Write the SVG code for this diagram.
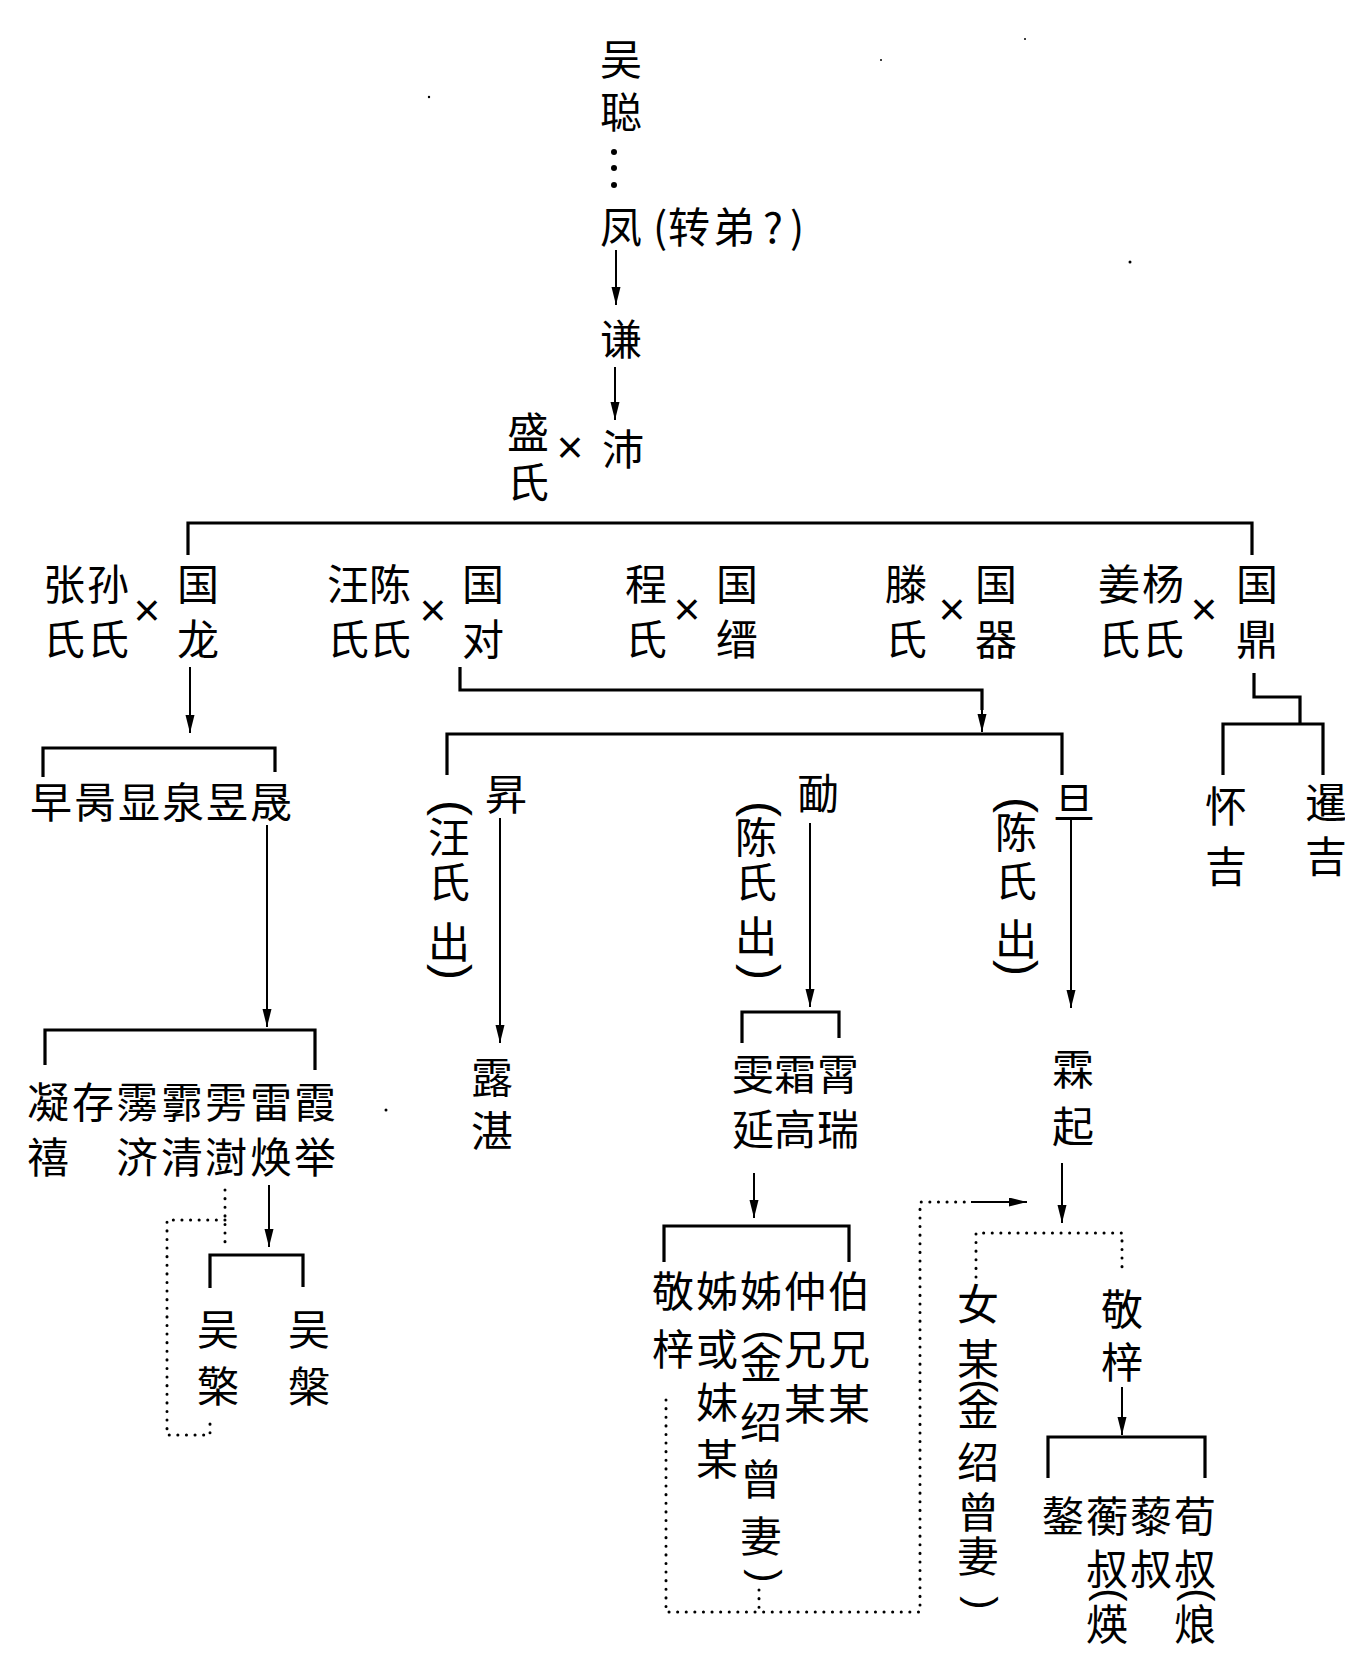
<svg xmlns="http://www.w3.org/2000/svg" width="1345" height="1657" viewBox="0 0 1345 1657">
<style>
.t{font-family:"Noto Sans CJK SC","Noto Sans CJK JP",sans-serif;font-size:42px;fill:#000}
.p{font-family:"Noto Sans CJK SC",sans-serif;font-size:42px;fill:#000}
.x{font-family:"Liberation Sans",sans-serif;font-size:46px;fill:#000;text-anchor:middle}
.pr{font-family:"Liberation Sans",sans-serif;font-size:48px;fill:#000;text-anchor:middle}
.ps{font-family:"Liberation Sans",sans-serif;font-size:40px;fill:#000;text-anchor:middle}
.b{fill:none;stroke:#000;stroke-width:3.2}
.a{fill:none;stroke:#000;stroke-width:2;marker-end:url(#ah)}
.d{fill:none;stroke:#000;stroke-width:3;stroke-dasharray:0.1 8.5;stroke-linecap:round}
</style>
<defs>
<marker id="ah" markerUnits="userSpaceOnUse" markerWidth="20" markerHeight="10" refX="18" refY="4.5" orient="auto">
<path d="M0,0 L18,4.5 L0,9 Z" fill="#000"/>
</marker>
</defs>
<rect width="1345" height="1657" fill="#fff"/>

<g id="connectors">
<circle cx="614" cy="152" r="3"/><circle cx="614" cy="168" r="3"/><circle cx="614" cy="185" r="3"/>
<path class="a" d="M616,250 V305"/>
<path class="a" d="M615,367 V420"/>
<path class="b" d="M188,555 V523 H1252 V555"/>
<path class="a" d="M190,667 V733"/>
<path class="b" d="M43,777 V748 H275 V772"/>
<path class="a" d="M267,825 V1027"/>
<path class="b" d="M45,1065 V1030 H315 V1070"/>
<path class="d" d="M225,1190 V1242 M225,1220 H167 V1435 H210 V1417"/>
<path class="a" d="M269,1185 V1247"/>
<path class="b" d="M210,1288 V1255 H303 V1287"/>
<path class="b" d="M460,667 V690 H982 V710"/>
<path class="a" d="M982,700 V732"/>
<path class="b" d="M447,775 V734 H1062 V775"/>
<path class="a" d="M500,818 V1043"/>
<path class="a" d="M810,823 V1007"/>
<path class="b" d="M742,1043 V1012 H839 V1038"/>
<path class="a" d="M754,1173 V1218"/>
<path class="b" d="M664,1262 V1226 H849 V1262"/>
<path class="d" d="M666,1400 V1612 H920 V1202 H971 M759,1590 V1612"/>
<path class="a" d="M971,1202 H1027"/>
<path class="a" d="M1071,820 V1008"/>
<path class="a" d="M1062,1163 V1223"/>
<path class="d" d="M976,1277 V1233 H1122 V1273"/>
<path class="a" d="M1122,1387 V1435"/>
<path class="b" d="M1048,1478 V1437 H1205 V1478"/>
<path class="b" d="M1254,673 V697 H1300 V724"/>
<path class="b" d="M1223,775 V724 H1323 V775"/>
</g>

<g id="n-wucong"><text class="t" x="600 600" y="75 128">吴聪</text></g>
<g id="n-feng"><text class="p" x="600 653 668 713 763 790" y="243">凤(转弟?)</text></g>
<g id="n-qian"><text class="t" x="600" y="355">谦</text></g>
<g id="n-pei"><text class="t" x="602" y="465">沛</text><text class="x" x="570" y="463">×</text><text class="t" x="507 507" y="448 498">盛氏</text></g>

<g id="n-guolong"><text class="t" x="43 87" y="600">张孙</text><text class="t" x="43 87" y="655">氏氏</text><text class="x" x="147" y="626">×</text><text class="t" x="177 177" y="600 655">国龙</text></g>
<g id="n-guodui"><text class="t" x="327 369" y="600">汪陈</text><text class="t" x="327 369" y="655">氏氏</text><text class="x" x="433" y="626">×</text><text class="t" x="462 462" y="600 655">国对</text></g>
<g id="n-guojin"><text class="t" x="625 625" y="600 655">程氏</text><text class="x" x="687" y="625">×</text><text class="t" x="716 716" y="600 655">国缙</text></g>
<g id="n-guoqi"><text class="t" x="885 885" y="600 655">滕氏</text><text class="x" x="952" y="625">×</text><text class="t" x="975 975" y="600 655">国器</text></g>
<g id="n-guoding"><text class="t" x="1098 1142" y="600">姜杨</text><text class="t" x="1098 1142" y="655">氏氏</text><text class="x" x="1204" y="625">×</text><text class="t" x="1236 1236" y="600 655">国鼎</text></g>

<g id="n-zao"><text class="t" x="30 74 118 162 206 250" y="818">早昺显泉昱晟</text></g>
<g id="n-ning"><text class="t" x="27 72 116 161 205 250 294" y="1118">凝存霶霩雱雷霞</text><text class="t" x="27" y="1173">禧</text><text class="t" x="116 161 205 250 294" y="1173">济清澍焕举</text></g>
<g id="n-wuqing"><text class="t" x="197 197" y="1345 1402">吴檠</text></g>
<g id="n-wupan"><text class="t" x="288 288" y="1345 1402">吴槃</text></g>

<g id="n-sheng"><text class="t" x="485" y="810">昇</text>
<text class="t" x="428 428 428" y="853 898 958">汪氏出</text>
<text class="pr" transform="translate(449,808) rotate(90)" y="12">(</text>
<text class="pr" transform="translate(449,972) rotate(90)" y="12">)</text></g>
<g id="n-luzhan"><text class="t" x="471 471" y="1093 1147">露湛</text></g>
<g id="n-mian"><text class="t" x="797" y="809">勔</text>
<text class="t" x="735 735 735" y="853 898 952">陈氏出</text>
<text class="pr" transform="translate(758,809) rotate(90)" y="12">(</text>
<text class="pr" transform="translate(758,972) rotate(90)" y="12">)</text></g>
<g id="n-wenyan"><text class="t" x="732 774 817" y="1090">雯霜霄</text><text class="t" x="732 774 817" y="1145">延高瑞</text></g>
<g id="n-jingzi1"><text class="t" x="652 696 740 784 828" y="1307">敬姊姊仲伯</text>
<text class="t" x="652" y="1365">梓</text>
<text class="t" x="696 696 696" y="1365 1418 1475">或妹某</text>
<text class="t" x="740 740 740 740" y="1378 1438 1495 1552">金绍曾妻</text>
<text class="ps" transform="translate(762,1337) rotate(90)" y="10">(</text>
<text class="ps" transform="translate(762,1576) rotate(90)" y="10">)</text>
<text class="t" x="784 784" y="1365 1420">兄某</text>
<text class="t" x="828 828" y="1365 1420">兄某</text></g>
<g id="n-dan"><text class="t" x="1053" y="818">旦</text>
<text class="t" x="995 995 995" y="848 897 955">陈氏出</text>
<text class="pr" transform="translate(1015,805) rotate(90)" y="12">(</text>
<text class="pr" transform="translate(1015,968) rotate(90)" y="12">)</text></g>
<g id="n-linqi"><text class="t" x="1052 1052" y="1085 1142">霖起</text></g>
<g id="n-nvmou"><text class="t" x="957 957 957 957 957 957" y="1320 1375 1425 1478 1528 1572">女某金绍曾妻</text>
<text class="ps" transform="translate(978,1386) rotate(90)" y="10">(</text>
<text class="ps" transform="translate(978,1603) rotate(90)" y="10">)</text></g>
<g id="n-jingzi2"><text class="t" x="1101 1101" y="1325 1378">敬梓</text></g>
<g id="n-sons"><text class="t" x="1042 1086 1130 1174" y="1532">鏊蘅藜荀</text>
<text class="t" x="1086 1130 1174" y="1585">叔叔叔</text>
<text class="t" x="1086" y="1640">煐</text>
<text class="t" x="1174" y="1640">烺</text>
<text class="ps" transform="translate(1107,1595) rotate(90)" y="10">(</text>
<text class="ps" transform="translate(1195,1595) rotate(90)" y="10">(</text>
<text class="ps" transform="translate(1107,1664) rotate(90)" y="10">)</text>
<text class="ps" transform="translate(1195,1664) rotate(90)" y="10">)</text></g>
<g id="n-huaiji"><text class="t" x="1205 1205" y="822 882">怀吉</text></g>
<g id="n-xianji"><text class="t" x="1305 1305" y="818 872">暹吉</text></g>

<g id="specks" fill="#000"><circle cx="1025" cy="39" r="1"/><circle cx="881" cy="60" r="1"/><circle cx="429" cy="97" r="1.2"/><circle cx="1130" cy="262" r="1.5"/><circle cx="386" cy="1110" r="1.5"/></g>
</svg>
